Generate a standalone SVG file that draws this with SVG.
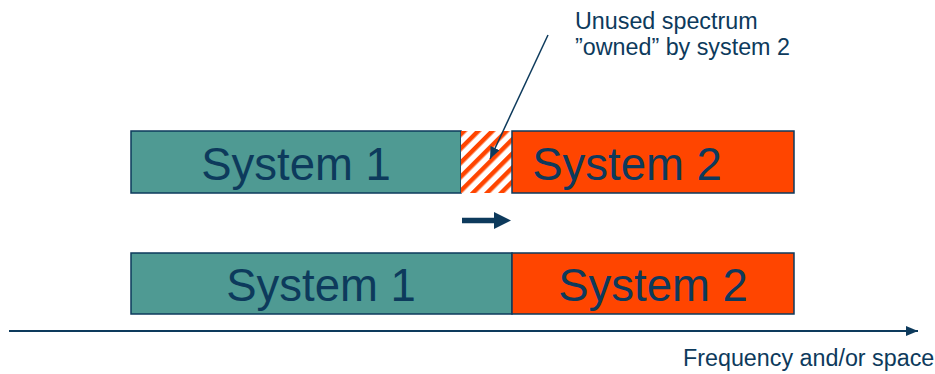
<svg xmlns="http://www.w3.org/2000/svg" width="935" height="374" viewBox="0 0 935 374">
<style>
.s1{fill:#4f9a93;stroke:#0d3a5c;stroke-width:1.5}
.s2{fill:#ff4500;stroke:#0d3a5c;stroke-width:1.5}
.lbl{font-family:"Liberation Sans",Arial,sans-serif;font-size:45.5px;fill:#0d3a5c;text-anchor:middle}
.txt{font-family:"Liberation Sans",Arial,sans-serif;font-size:23.3px;fill:#0d3a5c}
.ln{stroke:#0d3a5c;fill:none}
.head{fill:#0d3a5c}
</style>
<defs>
<pattern id="hatch" x="461" y="131" width="10" height="10" patternUnits="userSpaceOnUse" patternTransform="rotate(45 461 131)">
<rect width="10" height="10" fill="#ffffff"/>
<rect width="4.5" height="10" fill="#ff4500"/>
</pattern>
<marker id="ah" viewBox="0 0 10 10" refX="10" refY="5" markerWidth="12" markerHeight="10" markerUnits="userSpaceOnUse" orient="auto" preserveAspectRatio="none">
<path d="M0,0 L10,5 L0,10 Z" fill="#0d3a5c"/>
</marker>
</defs>
<g id="top-system1">
<rect class="s1" x="131" y="131" width="330" height="62"/>
<text class="lbl" x="296" y="180">System 1</text>
</g>
<g id="unused">
<rect x="461" y="131" width="51" height="62" fill="url(#hatch)"/>
</g>
<g id="top-system2">
<rect class="s2" x="512" y="131" width="282" height="62"/>
<text class="lbl" x="627" y="180">System 2</text>
</g>
<g id="bottom-system1">
<rect class="s1" x="131" y="253" width="381" height="61"/>
<text class="lbl" x="321" y="301">System 1</text>
</g>
<g id="bottom-system2">
<rect class="s2" x="512" y="253" width="282" height="61"/>
<text class="lbl" x="653" y="301">System 2</text>
</g>
<g id="annotation">
<text class="txt" x="575" y="29">Unused spectrum</text>
<text class="txt" x="575" y="55">”owned” by system 2</text>
</g>
<g id="axis-label">
<text class="txt" x="683" y="366">Frequency and/or space</text>
</g>
<g id="connectors">
<line class="ln" x1="548" y1="35" x2="490" y2="159" stroke-width="1.5" marker-end="url(#ah)"/>
<line class="ln" x1="462" y1="220.5" x2="497" y2="220.5" stroke-width="5.5"/>
<polygon class="head" points="494,212 511,220.5 494,229"/>
<line class="ln" x1="9" y1="331" x2="918" y2="331" stroke-width="2" marker-end="url(#ah)"/>
</g>
</svg>
